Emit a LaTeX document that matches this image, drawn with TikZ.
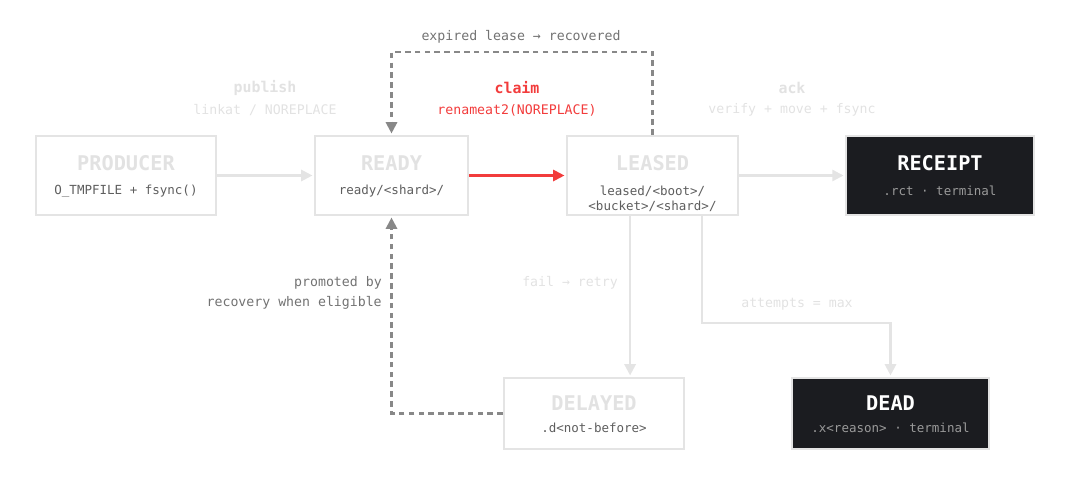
\documentclass[tikz,border=0pt]{standalone}
\usepackage{fontspec}
\setmainfont{DejaVu Sans Mono}
\usetikzlibrary{arrows.meta}

\definecolor{boxline}{HTML}{E4E4E4}
\definecolor{faint}{HTML}{E2E2E2}
\definecolor{subgray}{HTML}{5E5E5E}
\definecolor{dashgray}{HTML}{888888}
\definecolor{notegray}{HTML}{727272}
\definecolor{claimred}{HTML}{F23C3C}
\definecolor{inkbox}{HTML}{1B1C20}
\definecolor{inksub}{HTML}{9A9A9A}

\tikzset{
  lightbox/.style={rectangle, draw=boxline, line width=1.5pt, fill=white, minimum height=1.98cm},
  darkbox/.style={rectangle, draw=boxline, line width=1.5pt, fill=inkbox, minimum height=1.98cm},
  titletext/.style={font=\fontsize{14.4}{17}\selectfont\bfseries, text=faint, inner sep=0pt},
  darktitle/.style={font=\fontsize{14.4}{17}\selectfont\bfseries, text=white, inner sep=0pt},
  subtext/.style={font=\fontsize{8.9}{10.6}\selectfont, text=subgray, inner sep=0pt, align=center},
  darksub/.style={font=\fontsize{8.9}{10.6}\selectfont, text=inksub, inner sep=0pt},
  flow/.style={draw=boxline, line width=1.6pt, -{Triangle[length=8pt,width=8pt]}},
  claimflow/.style={draw=claimred, line width=1.5pt, -{Triangle[length=8pt,width=8pt]}},
  recover/.style={draw=dashgray, line width=1.6pt, dash pattern=on 4pt off 3pt, -{Triangle[length=8pt,width=8pt]}},
  edgehead/.style={font=\fontsize{10.6}{12}\selectfont\bfseries, inner sep=0pt},
  edgenote/.style={font=\fontsize{9.4}{14}\selectfont, inner sep=0pt}
}

\begin{document}
\begin{tikzpicture}[x=0.025cm, y=-0.025cm]
  % Frame
  \useasboundingbox (0,0) rectangle (1080,495);

  % Variables
  \def \ttl {0.31cm}
  \def \sbl {-0.39cm}

  % Boxes
  \node[lightbox, minimum width=4.5cm]   (producer) at (126,175.5) {};
  \node[lightbox, minimum width=3.83cm]  (ready)    at (391.5,175.5) {};
  \node[lightbox, minimum width=4.28cm]  (leased)   at (652.5,175.5) {};
  \node[darkbox,  minimum width=4.7cm]   (receipt)  at (940,175.5) {};
  \node[lightbox, minimum width=4.5cm, minimum height=1.78cm] (delayed) at (594,413.5) {};
  \node[darkbox,  minimum width=4.93cm, minimum height=1.78cm] (dead)   at (890.5,413.5) {};

  % Box texts
  \node[titletext] (producerT) at ([yshift=\ttl]producer.center) {PRODUCER};
  \node[subtext]   (producerS) at ([yshift=\sbl]producer.center) {O\_TMPFILE + fsync()};
  \node[titletext] (readyT)    at ([yshift=\ttl]ready.center) {READY};
  \node[subtext]   (readyS)    at ([yshift=\sbl]ready.center) {ready/<shard>/};
  \node[titletext] (leasedT)   at ([yshift=\ttl]leased.center) {LEASED};
  \node[subtext, yshift=-0.2cm] (leasedS) at ([yshift=\sbl]leased.center) {leased/<boot>/\\<bucket>/<shard>/};
  \node[darktitle] (receiptT)  at ([yshift=\ttl]receipt.center) {RECEIPT};
  \node[darksub]   (receiptS)  at ([yshift=\sbl]receipt.center) {.rct · terminal};
  \node[titletext] (delayedT)  at ([yshift=0.26cm]delayed.center) {DELAYED};
  \node[subtext]   (delayedS)  at ([yshift=-0.36cm]delayed.center) {.d<not-before>};
  \node[darktitle] (deadT)     at ([yshift=0.26cm]dead.center) {DEAD};
  \node[darksub]   (deadS)     at ([yshift=-0.36cm]dead.center) {.x<reason> · terminal};

  % Main line
  \draw[flow] (producer.east) -- ([xshift=-1pt]ready.west);
  \draw[claimflow] (ready.east) -- ([xshift=-1pt]leased.west);
  \draw[flow] (leased.east) -- ([xshift=-1pt]receipt.west);

  % Main line labels
  \node[edgehead, text=faint]    (publishA) at (265,88)  {publish};
  \node[edgenote, text=faint]    (publishB) at (265,110) {linkat / NOREPLACE};
  \node[edgehead, text=claimred] (claimA)   at (517,88)  {claim};
  \node[edgenote, text=claimred] (claimB)   at (517,110) {renameat2(NOREPLACE)};
  \node[edgehead, text=faint]    (ackA)     at (792,88)  {ack};
  \node[edgenote, text=faint]    (ackB)     at (792,110) {verify + move + fsync};

  % Recovery loops
  \coordinate (looptop) at (521,52);
  \draw[recover] (leased.north) |- (looptop) -| ([yshift=1pt]ready.north);
  \node[edgenote, text=notegray] (expired) at (521,37) {expired lease → recovered};

  \draw[recover] (delayed.west) -| ([yshift=-1pt]ready.south);
  \node[edgenote, text=notegray, anchor=east, align=right] (promoted) at (382,293) {promoted by\\recovery when eligible};

  % Failure paths
  \coordinate (failtop) at ([xshift=-0.56cm]leased.south);
  \draw[flow] (failtop) -- ([yshift=1pt]failtop |- delayed.north);
  \node[edgenote, text=faint] (retry) at (570,283) {fail → retry};

  \coordinate (deadtop) at ([xshift=1.24cm]leased.south);
  \draw[flow] (deadtop) -- ++(0,107) -| ([yshift=1pt]dead.north);
  \node[edgenote, text=faint] (maxed) at (797,304) {attempts = max};

\end{tikzpicture}
\end{document}
